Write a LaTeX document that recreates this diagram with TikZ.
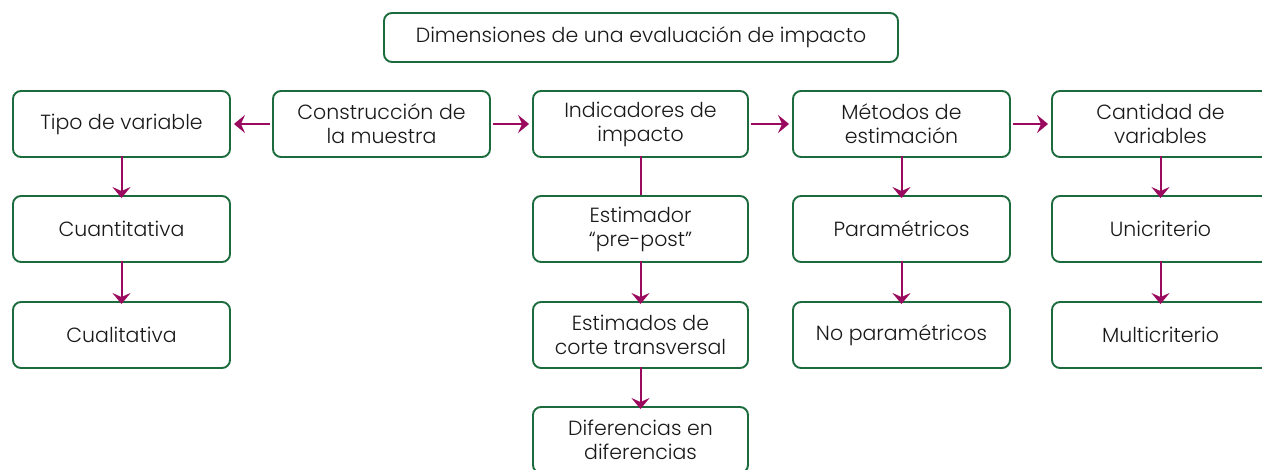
\documentclass[tikz,border=0pt]{standalone}
\usepackage{fontspec}
\setmainfont{Poppins}[UprightFont=* Light]
\usetikzlibrary{arrows.meta}
\definecolor{boxgreen}{HTML}{1B6B3C}
\definecolor{arrmag}{HTML}{9A0A5E}
\tikzset{
  box/.style={draw=boxgreen, line width=1.9pt, rounded corners=8pt, fill=white,
    minimum width=217pt, minimum height=66pt, align=center, inner sep=2pt,
    font=\fontsize{20.5}{24}\selectfont, text=black!90},
  conn/.style={draw=arrmag, line width=2pt},
  arr/.style={conn, -{Stealth[length=11pt,width=18pt,inset=4pt]}}
}
\begin{document}
\begin{tikzpicture}[x=1pt,y=-1pt]
\useasboundingbox (0,0) rectangle (1262,470);
\clip (0,0) rectangle (1262,470);
\node[box, minimum width=514pt, minimum height=49pt] (title) at (641,37.5) {Dimensiones de una evaluación de impacto};
% row 1
\node[box] (tipo) at (121.5,124) {Tipo de variable};
\node[box] (cons) at (381.5,124) {Construcción de\\la muestra};
\node[box, minimum width=215pt] (ind) at (640.5,124) {Indicadores de\\impacto};
\node[box] (met) at (901.5,124) {Métodos de\\estimación};
\node[box] (cant) at (1160.5,124) {Cantidad de\\variables};
% row 2
\node[box] (cuan) at (121.5,229) {Cuantitativa};
\node[box, minimum width=215pt] (est) at (640.5,229) {Estimador\\“pre-post”};
\node[box] (par) at (901.5,229) {Paramétricos};
\node[box] (uni) at (1160.5,229) {Unicriterio};
% row 3
\node[box] (cual) at (121.5,335) {Cualitativa};
\node[box, minimum width=215pt] (ect) at (640.5,335) {Estimados de\\corte transversal};
\node[box] (nopar) at (901.5,335) {No paramétricos};
\node[box] (multi) at (1160.5,335) {Multicriterio};
% row 4
\node[box, minimum width=215pt] (dif) at (640.5,440) {Diferencias en\\diferencias};
% connectors
\draw[arr] ([xshift=-2pt]cons.west) -- ([xshift=3pt]tipo.east);
\draw[arr] ([xshift=2pt]cons.east) -- ([xshift=-3pt]ind.west);
\draw[arr] ([xshift=2pt]ind.east) -- ([xshift=-3pt]met.west);
\draw[arr] ([xshift=2pt]met.east) -- ([xshift=-3pt]cant.west);
\draw[conn] ([yshift=2pt]ind.south) -- (est.north);
\foreach \a/\b in {tipo/cuan, cuan/cual, est/ect, ect/dif, met/par, par/nopar, cant/uni, uni/multi}
  \draw[arr] ([yshift=2pt]\a.south) -- ([yshift=-3pt]\b.north);
\end{tikzpicture}
\end{document}
